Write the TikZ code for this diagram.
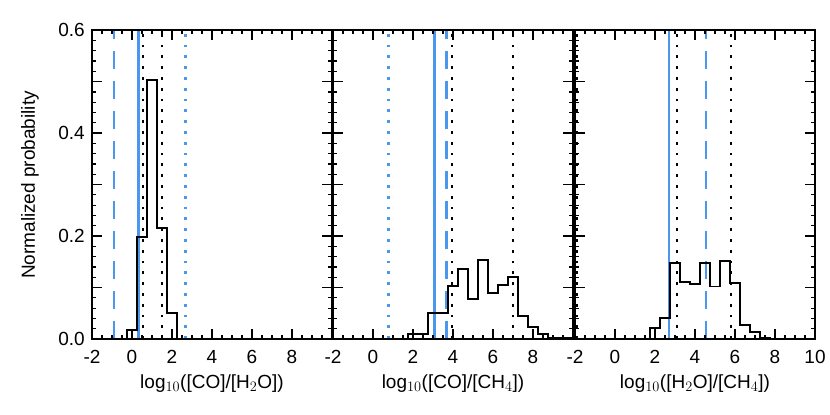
\documentclass[tikz,border=0pt]{standalone}
\usepackage{fontspec}
\setmainfont{Liberation Sans}
\definecolor{lineblue}{RGB}{74,152,238}
\tikzset{
  histo/.style={black,line width=1.8pt,line join=miter},
  frameline/.style={black,line width=1.8pt},
  minortick/.style={black,line width=1.2pt},
  solidblue/.style={lineblue,line width=2.4pt},
  dashblue/.style={lineblue,line width=2.4pt,dash pattern=on 18pt off 12pt},
  dotblue/.style={lineblue,line width=2.8pt,dash pattern=on 2.8pt off 8pt},
  dotblack/.style={black,line width=1.8pt,dash pattern=on 2.8pt off 8pt},
  ticklabel/.style={font=\fontsize{19}{21}\selectfont,inner sep=1pt},
  axislabel/.style={font=\fontsize{19}{21}\selectfont,inner sep=1pt},
  panelframe/.pic={
    \draw[frameline] (-2,0) -- (10,0) -- (10,0.6) -- (-2,0.6) -- cycle;
    \foreach \tu in {0,2,4,6,8}{
      \draw[frameline] (\tu,0) -- (\tu,0.02);
      \draw[frameline] (\tu,0.6) -- (\tu,0.58);}
    \foreach \tu in {-1.5,-1,...,9.6}{
      \draw[minortick] (\tu,0) -- (\tu,0.008);
      \draw[minortick] (\tu,0.6) -- (\tu,0.592);}
    \foreach \tp in {0.1,0.2,0.3,0.4,0.5}{
      \draw[frameline] (-2,\tp) -- (-1.5,\tp);
      \draw[frameline] (10,\tp) -- (9.5,\tp);}
    \foreach \tp in {0.02,0.04,...,0.59}{
      \draw[minortick] (-2,\tp) -- (-1.8,\tp);
      \draw[minortick] (10,\tp) -- (9.8,\tp);}
  },
}
\begin{document}
\begin{tikzpicture}[x=1pt,y=1pt]
\useasboundingbox (0,0) rectangle (830,-415);
\node[axislabel,rotate=90] (ylab) at (30,-185) {Normalized probability};
\foreach \p/\txt in {0/0.0,0.2/0.2,0.4/0.4,0.6/0.6}
  \node[ticklabel,anchor=east] (yt\txt) at (86,{-339+515*\p}) {\txt};

% panel 1
\begin{scope}[shift={(132pt,-339pt)},x=20pt,y=515pt]
  \begin{scope}
    \clip (-2,0) rectangle (10,0.6);
    \draw[dashblue] (-0.9,0) -- (-0.9,0.6);
    \draw[solidblue] (0.33,0) -- (0.33,0.6);
    \draw[dotblue] (2.68,0) -- (2.68,0.6);
    \draw[dotblack] (0.53,0) -- (0.53,0.6);
    \draw[dotblack] (1.48,0) -- (1.48,0.6);
    \draw[histo] (-2,0) -- (-0.25,0) |- (0.25,0.017) |- (0.75,0.198)
      |- (1.25,0.503) |- (1.75,0.215) |- (2.25,0.05) -- (2.25,0) -- (10,0);
  \end{scope}
  \pic (fra) at (0,0) {panelframe};
  \foreach \u in {-2,0,...,8}
    \node[ticklabel] (xa\u) at (\u,-0.034) {\u};
  \node[axislabel] (xlaba) at (4,-0.086) {log$_{10}$([CO]/[H$_2$O])};
\end{scope}

% panel 2
\begin{scope}[shift={(373pt,-339pt)},x=20pt,y=515pt]
  \begin{scope}
    \clip (-2,0) rectangle (10,0.6);
    \draw[dotblue] (0.77,0) -- (0.77,0.6);
    \draw[solidblue] (3.07,0) -- (3.07,0.6);
    \draw[dashblue] (3.68,0) -- (3.68,0.6);
    \draw[dotblack] (3.93,0) -- (3.93,0.6);
    \draw[dotblack] (6.98,0) -- (6.98,0.6);
    \draw[histo] (-2,0) -- (1.75,0) |- (2.75,0.01) |- (3.75,0.05)
      |- (4.25,0.103) |- (4.75,0.136) |- (5.25,0.078) |- (5.75,0.153)
      |- (6.25,0.089) |- (6.75,0.105) |- (7.25,0.12) |- (7.75,0.045)
      |- (8.25,0.024) |- (8.75,0.01) |- (10,0.003) -- (10,0);
  \end{scope}
  \pic (frb) at (0,0) {panelframe};
  \foreach \u in {-2,0,...,8}
    \node[ticklabel] (xb\u) at (\u,-0.034) {\u};
  \node[axislabel] (xlabb) at (4,-0.086) {log$_{10}$([CO]/[CH$_4$])};
\end{scope}

% panel 3
\begin{scope}[shift={(615pt,-339pt)},x=20pt,y=515pt]
  \begin{scope}
    \clip (-2,0) rectangle (10,0.6);
    \draw[dotblue] (-1.95,0) -- (-1.95,0.6);
    \draw[dotblack] (-1.9,0) -- (-1.9,0.6);
    \draw[solidblue] (2.7,0) -- (2.7,0.6);
    \draw[dotblack] (3.08,0) -- (3.08,0.6);
    \draw[dashblue] (4.55,0) -- (4.55,0.6);
    \draw[dotblack] (5.78,0) -- (5.78,0.6);
    \draw[histo] (-2,0) -- (1.75,0) |- (2.25,0.021) |- (2.75,0.041)
      |- (3.25,0.147) |- (3.75,0.111) |- (4.25,0.107) |- (4.75,0.148)
      |- (5.25,0.102) |- (5.75,0.151) |- (6.25,0.108) |- (6.75,0.027)
      |- (7.25,0.014) |- (7.75,0.003) -- (7.75,0) -- (10,0);
  \end{scope}
  \pic (frc) at (0,0) {panelframe};
  \foreach \u in {-2,0,...,10}
    \node[ticklabel] (xc\u) at (\u,-0.034) {\u};
  \node[axislabel] (xlabc) at (4,-0.086) {log$_{10}$([H$_2$O]/[CH$_4$])};
\end{scope}
\end{tikzpicture}
\end{document}
